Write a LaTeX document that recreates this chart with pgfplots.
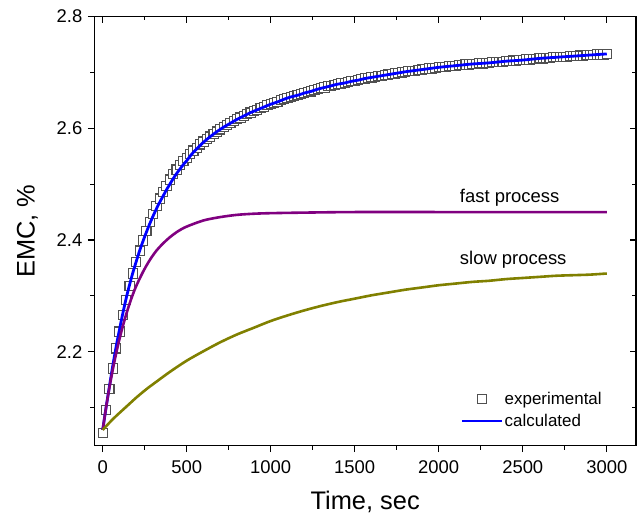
\documentclass[border=0pt]{standalone}
\usepackage{pgfplots}
\usepackage{pgfplotstable}
\pgfplotsset{compat=1.18}
\usepackage{fontspec}
\setmainfont{Liberation Sans}

\definecolor{calcblue}{RGB}{0,0,255}
\definecolor{fastpurple}{RGB}{128,0,128}
\definecolor{slowolive}{RGB}{128,128,0}
\definecolor{expgray}{RGB}{80,80,80}

\pgfplotsset{
  markleg/.style={legend image code/.code={\draw[mark repeat=2, mark phase=2, ##1]
    plot coordinates {(0bp,0bp) (20bp,0bp) (40bp,0bp)};}},
  lineleg/.style={legend image code/.code={\draw[##1] (0bp,0bp) -- (40bp,0bp);}},
}

% measured moisture content, one reading every 20 s
\pgfplotstableread{
t v
0 2.054
20 2.096
40 2.133
60 2.170
80 2.206
100 2.236
120 2.266
140 2.292
160 2.318
180 2.340
200 2.361
220 2.381
240 2.399
260 2.416
280 2.432
300 2.447
320 2.461
340 2.474
360 2.486
380 2.497
400 2.508
420 2.518
440 2.526
460 2.534
480 2.541
500 2.547
520 2.554
540 2.560
560 2.565
580 2.571
600 2.576
620 2.581
640 2.585
660 2.590
680 2.594
700 2.598
720 2.602
740 2.606
760 2.609
780 2.613
800 2.616
820 2.619
840 2.622
860 2.625
880 2.628
900 2.631
920 2.633
940 2.636
960 2.638
980 2.641
1000 2.643
1020 2.645
1040 2.647
1060 2.650
1080 2.652
1100 2.654
1120 2.656
1140 2.658
1160 2.659
1180 2.661
1200 2.663
1220 2.665
1240 2.666
1260 2.668
1280 2.670
1300 2.672
1320 2.673
1340 2.675
1360 2.676
1380 2.678
1400 2.679
1420 2.680
1440 2.681
1460 2.683
1480 2.684
1500 2.685
1520 2.686
1540 2.688
1560 2.689
1580 2.690
1600 2.691
1620 2.692
1640 2.693
1660 2.694
1680 2.695
1700 2.696
1720 2.697
1740 2.698
1760 2.699
1780 2.700
1800 2.701
1820 2.702
1840 2.703
1860 2.703
1880 2.704
1900 2.705
1920 2.706
1940 2.707
1960 2.707
1980 2.708
2000 2.709
2020 2.710
2040 2.710
2060 2.711
2080 2.711
2100 2.712
2120 2.713
2140 2.713
2160 2.714
2180 2.714
2200 2.715
2220 2.715
2240 2.716
2260 2.716
2280 2.717
2300 2.717
2320 2.718
2340 2.718
2360 2.719
2380 2.719
2400 2.720
2420 2.720
2440 2.721
2460 2.721
2480 2.722
2500 2.722
2520 2.723
2540 2.723
2560 2.724
2580 2.724
2600 2.725
2620 2.725
2640 2.726
2660 2.726
2680 2.727
2700 2.727
2720 2.727
2740 2.728
2760 2.728
2780 2.729
2800 2.729
2820 2.729
2840 2.730
2860 2.730
2880 2.731
2900 2.731
2920 2.731
2940 2.732
2960 2.732
2980 2.732
3000 2.733
}\experimental

\begin{document}
\begin{tikzpicture}
\useasboundingbox (-94.3bp,-71.3bp) rectangle (548.7bp,445.6bp);
\pgfplotsset{
  emcframe/.style={
    at={(0,0)}, anchor=south west, scale only axis,
    width=541.7bp, height=429.1bp,
    xmin=-50, xmax=3174, ymin=2.032, ymax=2.8,
    xtick={0,500,...,3000}, ytick={2.0,2.2,2.4,2.6,2.8},
    minor x tick num=1, minor y tick num=1,
    axis line style={line width=1.3bp},
    every tick/.style={black, line width=1.2bp},
    major tick length=6.5bp, minor tick length=4bp,
  }
}
\begin{axis}[emcframe,
  xtick pos=bottom, ytick pos=left, tick align=outside,
  clip marker paths=true,
  /pgf/number format/assume math mode=true,
  /pgf/number format/1000 sep={},
  yticklabel style={/pgf/number format/.cd, fixed, fixed zerofill, precision=1},
  ticklabel style={font=\fontsize{18.5}{20}\selectfont},
  xticklabel shift=5bp, yticklabel shift=2bp,
  xlabel={Time, sec}, ylabel={EMC, \%},
  label style={font=\fontsize{25.5}{28}\selectfont},
  xlabel shift=11bp, ylabel shift=12bp,
  legend cell align=left,
  legend style={draw=none, fill=none, at={(axis cs:2110,2.134)}, anchor=north west,
    font=\fontsize{17}{19}\selectfont, row sep=5bp,
    nodes={inner sep=1.5bp}},
]
\addplot[only marks, mark=square*, mark size=4.6bp,
  mark options={draw=expgray, fill=white, line width=1.1bp}, markleg]
  table[x=t, y=v] {\experimental};
\addlegendentry{experimental}

\addplot[calcblue, line width=2.8bp, smooth, lineleg]
  coordinates {(0,2.060) (20,2.100) (40,2.138) (60,2.175) (80,2.209) (100,2.240)
  (120,2.269) (140,2.296) (160,2.320) (180,2.342) (200,2.362) (220,2.381)
  (240,2.398) (260,2.414) (280,2.429) (300,2.443) (320,2.456) (340,2.468)
  (360,2.479) (380,2.490) (400,2.500) (420,2.510) (440,2.519) (460,2.527)
  (480,2.535) (500,2.542) (520,2.550) (540,2.557) (560,2.563) (580,2.569)
  (600,2.575) (640,2.585) (680,2.594) (720,2.602) (760,2.609) (800,2.616)
  (840,2.622) (880,2.628) (920,2.633) (960,2.638) (1000,2.643) (1040,2.647)
  (1080,2.652) (1120,2.656) (1160,2.659) (1200,2.663) (1240,2.666) (1280,2.670)
  (1320,2.673) (1360,2.676) (1400,2.679) (1440,2.681) (1480,2.684) (1520,2.686)
  (1560,2.689) (1600,2.691) (1700,2.696) (1800,2.701) (1900,2.705) (2000,2.709)
  (2100,2.712) (2200,2.715) (2300,2.717) (2400,2.720) (2500,2.722) (2600,2.725)
  (2700,2.727) (2800,2.729) (2900,2.731) (3000,2.733)};
\addlegendentry{calculated}

% fast process component
\addplot[fastpurple, line width=2.6bp, smooth, forget plot]
  coordinates {(0,2.060) (20,2.100) (40,2.136) (60,2.168) (80,2.197) (100,2.223)
  (120,2.246) (140,2.267) (160,2.286) (180,2.303) (200,2.318) (240,2.343)
  (280,2.364) (320,2.381) (360,2.394) (400,2.405) (450,2.416) (500,2.424)
  (600,2.435) (700,2.441) (800,2.445) (900,2.447) (1000,2.448) (1200,2.449)
  (1500,2.450) (2000,2.450) (3000,2.450)};

% slow process component
\addplot[slowolive, line width=2.6bp, smooth, forget plot]
  coordinates {(0,2.060) (40,2.073) (80,2.085) (120,2.096) (160,2.107) (200,2.118)
  (260,2.133) (300,2.142) (400,2.164) (500,2.184) (600,2.201) (700,2.217)
  (800,2.231) (900,2.243) (1000,2.255) (1100,2.265) (1200,2.274) (1300,2.282)
  (1400,2.289) (1500,2.295) (1600,2.301) (1700,2.306) (1800,2.311) (1900,2.315)
  (2000,2.319) (2100,2.322) (2200,2.325) (2300,2.327) (2400,2.330) (2500,2.332)
  (2600,2.334) (2700,2.336) (2800,2.337) (2900,2.338) (3000,2.340)};

\node[anchor=west, inner sep=0pt, font=\fontsize{18.5}{20}\selectfont]
  at (axis cs:2125,2.476) {fast process};
\node[anchor=west, inner sep=0pt, font=\fontsize{18.5}{20}\selectfont]
  at (axis cs:2125,2.365) {slow process};
\end{axis}

% inward ticks on the top and right edges
\begin{axis}[emcframe,
  xtick pos=top, ytick pos=right, tick align=inside,
  xticklabels={}, yticklabels={},
]
\end{axis}
\end{tikzpicture}
\end{document}
